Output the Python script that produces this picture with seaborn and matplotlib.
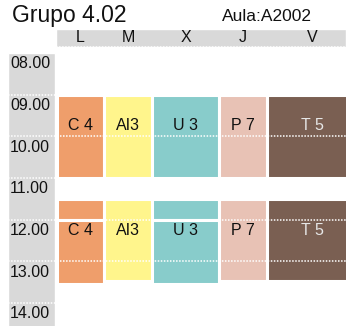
import matplotlib
matplotlib.use("Agg")
import matplotlib.pyplot as plt
import seaborn as sns

# ---- data ----
days = ["L", "M", "X", "J", "V"]
hours = [8, 9, 10, 11, 12, 13, 14]
hour_labels = ["08.00", "09.00", "10.00", "11.00", "12.00", "13.00", "14.00"]
subjects = ["C 4", "AI3", "U 3", "P 7", "T 5"]
colors = ["#EF9E6B", "#FFF58C", "#88CCCB", "#E8C2B5", "#7A5F52"]
text_colors = ["#111111", "#111111", "#111111", "#111111", "#E6E6E6"]
# sessions: (day index, start, end)
sessions = [
    (0, 9.0, 11.0), (1, 9.0, 11.0), (2, 9.0, 11.0), (3, 9.0, 11.0), (4, 9.0, 11.0),
    (0, 11.5, 12.0), (0, 12.0, 13.55),
    (1, 11.5, 13.48),
    (2, 11.5, 12.0), (2, 12.0, 13.55),
    (3, 11.5, 13.48),
    (4, 11.5, 13.48),
]
label_hours = [9.75, 12.26]
title = "Grupo 4.02"
room = "Aula:A2002"

# ---- layout ----
col_widths = [47.5, 48, 67, 48, 90]
col_start = 56.5
gray = "#D9D9D9"

sns.set_style("white")
plt.rcParams["font.family"] = ["Liberation Sans", "DejaVu Sans"]

fig = plt.figure(figsize=(3.46, 3.26), dpi=100)
ax = fig.add_axes([0, 0, 1, 1])
ax.set_xlim(0, 346)
ax.set_ylim(14.552, 6.728)
ax.axis("off")

lefts = []
x = col_start
for w in col_widths:
    lefts.append(x)
    x += w
centers = [l + w / 2 for l, w in zip(lefts, col_widths)]

# header band and time column
ax.bar(56, 7.85 - 7.42, width=346 - 56, bottom=7.42, align="edge", color=gray, zorder=1)
ax.bar(8, 14.7 - 8.0, width=47, bottom=8.0, align="edge", color=gray, zorder=1)

# sessions
for d, s, e in sessions:
    ax.bar(lefts[d], e - s, width=col_widths[d], bottom=s, align="edge",
           color=colors[d], edgecolor="white", linewidth=2.2, zorder=2)

# dotted grid lines
ax.hlines(hours, 8, 346, colors="white", linestyles=(0, (1, 1)), linewidth=1.1, zorder=3)
ax.hlines([7.85], 56, 346, colors="white", linestyles=(0, (1, 1)), linewidth=1.1, zorder=3)

# subject labels
for i, (c, sub) in enumerate(zip(centers, subjects)):
    for lh in label_hours:
        ax.text(c, lh, sub, ha="center", va="center", fontsize=11.5,
                color=text_colors[i], zorder=4)

# day labels
for c, d in zip(centers, days):
    ax.text(c, 7.743, d, ha="center", va="baseline", fontsize=11.5, color="#111111", zorder=4)

# hour labels
for h, lab in zip(hours, hour_labels):
    ax.text(10.2, h + 0.367, lab, ha="left", va="baseline", fontsize=11.5,
            color="#111111", zorder=4)

ax.text(12, 7.249, title, ha="left", va="baseline", fontsize=16.5, color="#111111")
ax.text(222, 7.225, room, ha="left", va="baseline", fontsize=12.5, color="#111111")

fig.savefig("out.png", dpi=100)
